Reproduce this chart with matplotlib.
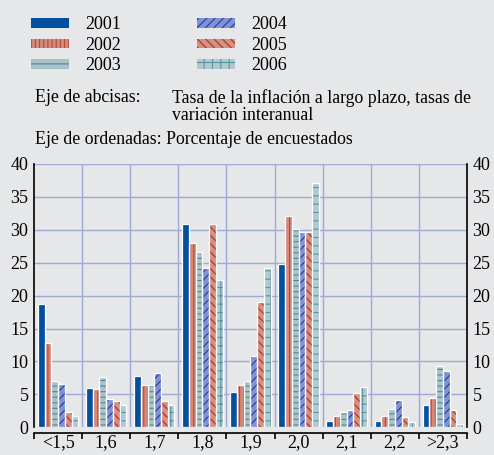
import matplotlib
matplotlib.use("Agg")
import matplotlib.pyplot as plt
import numpy as np
from matplotlib.patches import Patch

# datos
categorias = ["<1,5", "1,6", "1,7", "1,8", "1,9", "2,0", "2,1", "2,2", ">2,3"]
anios = ["2001", "2002", "2003", "2004", "2005", "2006"]
v2001 = [18.7, 6.0, 7.75, 30.9, 5.4, 24.8, 1.0, 1.0, 3.4]
v2002 = [12.8, 5.85, 6.45, 28.0, 6.45, 32.1, 1.7, 1.7, 4.5]
v2003 = [7.05, 7.65, 6.45, 26.6, 7.05, 30.1, 2.3, 2.8, 9.3]
v2004 = [6.65, 4.35, 8.25, 24.1, 10.9, 29.7, 2.6, 4.2, 8.6]
v2005 = [2.35, 4.05, 4.0, 30.8, 19.05, 29.7, 5.2, 1.6, 2.7]
v2006 = [1.7, 3.35, 3.35, 22.4, 24.1, 37.1, 6.1, 0.9, 0.5]
series = [v2001, v2002, v2003, v2004, v2005, v2006]

# estilos: color de relleno, color de trama, trama
relleno = ["#0050a0", "#d4897a", "#a9c3c8", "#8291d2", "#d4907f", "#b2c9d0"]
trama_c = ["#0050a0", "#b84a3c", "#4a8a96", "#1a3fa8", "#b02a2a", "#5a949e"]
tramas = [None, "||||", "---", "////", "\\\\\\\\", "++"]

fondo = "#e6e7e9"
plt.rcParams["font.family"] = ["Liberation Serif", "DejaVu Serif"]
plt.rcParams["hatch.linewidth"] = 0.8

fig = plt.figure(figsize=(4.94, 4.55), dpi=100, facecolor=fondo)
ax = fig.add_axes([0.0688, 0.0605, 0.8765, 0.5800], facecolor=fondo)

x = np.arange(len(categorias))
w = 0.14
for i, vals in enumerate(series):
    pos = x - 2.5 * w + i * w
    ax.bar(pos, vals, w, color=relleno[i], edgecolor=trama_c[i],
           hatch=tramas[i], linewidth=0, zorder=3)
    ax.bar(pos, vals, w, facecolor="none", edgecolor="white",
           linewidth=0.9, zorder=4)

ax.set_xlim(-0.5, len(categorias) - 0.5)
ax.set_ylim(0, 40)
ax.set_yticks(np.arange(0, 41, 5))
ax.set_xticks(x)
ax.set_xticklabels(categorias)
ax.set_xticks(np.arange(-0.5, len(categorias)), minor=True)

ax.grid(False)
for b in np.arange(0.5, len(categorias) - 0.5):
    ax.axvline(b, color="#9ea9d6", lw=1, zorder=1)
for yv in np.arange(5, 41, 5):
    ax.axhline(yv, color="#9ea9d6", lw=1, zorder=1)

ax.spines["top"].set_visible(False)
ax.spines["bottom"].set_position(("outward", 4))
for s in ["left", "right", "bottom"]:
    ax.spines[s].set_color("black")
    ax.spines[s].set_linewidth(1.2)

ax.tick_params(axis="x", which="major", length=0, pad=1, labelsize=13)
ax.tick_params(axis="x", which="minor", length=4, direction="out", width=1.2)
ax.tick_params(axis="y", length=0, pad=4, labelsize=13,
               labelright=True, right=True)

# leyenda
handles = [Patch(facecolor=relleno[i], edgecolor=trama_c[i], hatch=tramas[i],
                 linewidth=0, label=anios[i]) for i in range(6)]
fig.legend(handles=handles, ncol=2, loc="upper left",
           bbox_to_anchor=(0.03, 1.0), frameon=False, fontsize=13,
           handlelength=2.1, handleheight=0.45, handletextpad=0.9,
           columnspacing=4.2, labelspacing=0.2)

# textos de ejes
fs = 12.8
fig.text(35 / 494, 1 - 98 / 455, "Eje de abcisas:", fontsize=fs, va="center")
fig.text(172 / 494, 1 - 98 / 455, "Tasa de la inflación a largo plazo, tasas de",
         fontsize=fs, va="center")
fig.text(172 / 494, 1 - 116 / 455, "variación interanual", fontsize=fs, va="center")
fig.text(35 / 494, 1 - 139 / 455, "Eje de ordenadas: Porcentaje de encuestados",
         fontsize=fs, va="center")

fig.savefig("out.png", dpi=100, facecolor=fondo)
